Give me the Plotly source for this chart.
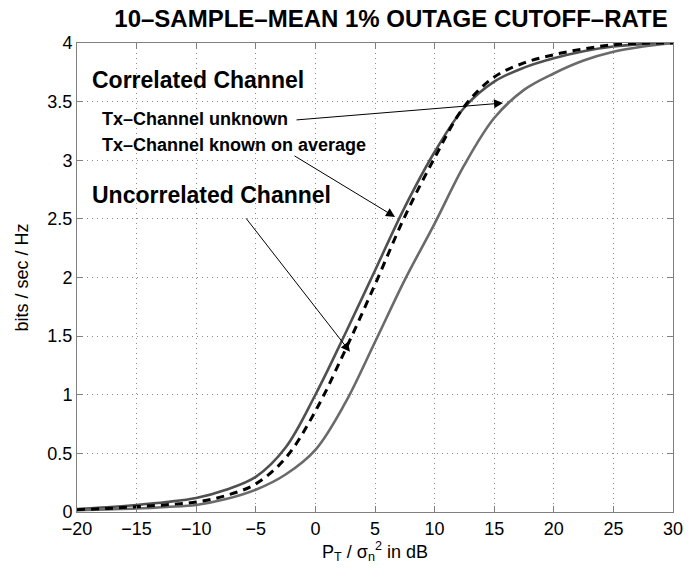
import plotly.graph_objects as go

# Correlated channel, Tx-channel known on average (left solid)
known_x = [-20, -17.5, -15, -12.5, -10, -7.5, -5, -2.5, 0, 2.5, 5, 7.5, 10, 12.5, 15, 17.5, 20, 22.5, 25, 27.5, 30]
known_y = [0.025, 0.04, 0.06, 0.085, 0.12, 0.19, 0.30, 0.55, 1.0, 1.52, 2.06, 2.60, 3.07, 3.45, 3.67, 3.79, 3.87, 3.93, 3.97, 3.99, 4.0]

# Uncorrelated channel (dashed)
uncorr_x = [-20, -17.5, -15, -12.5, -10, -7.5, -5, -2.5, 0, 2.5, 5, 7.5, 10, 12.5, 15, 17.5, 20, 22.5, 25, 27.5, 30]
uncorr_y = [0.02, 0.03, 0.045, 0.062, 0.085, 0.14, 0.24, 0.46, 0.86, 1.38, 1.94, 2.52, 3.02, 3.46, 3.71, 3.83, 3.90, 3.95, 3.985, 3.998, 4.0]

# Correlated channel, Tx-channel unknown (right solid)
unknown_x = [-20, -17.5, -15, -12.5, -10, -7.5, -5, -2.5, 0, 2.5, 5, 7.5, 10, 12.5, 15, 17.5, 20, 22.5, 25, 27.5, 30]
unknown_y = [0.015, 0.022, 0.03, 0.043, 0.06, 0.11, 0.19, 0.32, 0.53, 0.93, 1.45, 1.98, 2.46, 2.96, 3.36, 3.60, 3.74, 3.85, 3.925, 3.97, 4.0]

x_ticks = [-20, -15, -10, -5, 0, 5, 10, 15, 20, 25, 30]
y_ticks = [0, 0.5, 1, 1.5, 2, 2.5, 3, 3.5, 4]
y_tick_text = ["0", "0.5", "1", "1.5", "2", "2.5", "3", "3.5", "4"]

FONT = "Liberation Sans, Arial, Helvetica, sans-serif"

fig = go.Figure()
fig.add_trace(go.Scatter(x=known_x, y=known_y, mode="lines", line=dict(color="#505050", width=2.6, shape="spline", smoothing=1.0), showlegend=False, hoverinfo="skip"))
fig.add_trace(go.Scatter(x=unknown_x, y=unknown_y, mode="lines", line=dict(color="#6a6a6a", width=2.6, shape="spline", smoothing=1.0), showlegend=False, hoverinfo="skip"))
fig.add_trace(go.Scatter(x=uncorr_x, y=uncorr_y, mode="lines", line=dict(color="black", width=3, dash="8px,6px", shape="spline", smoothing=1.0), showlegend=False, hoverinfo="skip"))

axis_common = dict(
    showline=True, linecolor="#808080", linewidth=1, mirror="ticks",
    ticks="inside", ticklen=6, tickcolor="#808080",
    showgrid=True, gridcolor="#8c8c8c", griddash="1px,4px", gridwidth=1,
    zeroline=False, tickfont=dict(family=FONT, size=18, color="black"),
)

fig.update_xaxes(range=[-20, 30], tickvals=x_ticks, **axis_common,
                 title=dict(text="P<sub>T</sub> / σ<sub>n</sub><sup>2</sup> in dB", font=dict(family=FONT, size=18, color="black"), standoff=7))
fig.update_yaxes(range=[0, 4], tickvals=y_ticks, ticktext=y_tick_text, **axis_common,
                 title=dict(text="bits / sec / Hz", font=dict(family=FONT, size=18, color="black"), standoff=14))

def label(text, x, y, size):
    fig.add_annotation(x=x, y=y, xref="x", yref="y", text=f"<b>{text}</b>", showarrow=False,
                       xanchor="left", yanchor="middle", font=dict(family=FONT, size=size, color="black"))

label("Correlated Channel", -18.95, 3.684, 23)
label("Tx–Channel unknown", -18.1, 3.352, 18)
label("Tx–Channel known on average", -18.1, 3.13, 18)
label("Uncorrelated Channel", -18.95, 2.704, 23)

def arrow(x0, y0, x1, y1):
    fig.add_annotation(x=x1, y=y1, ax=x0, ay=y0, xref="x", yref="y", axref="x", ayref="y",
                       text="", showarrow=True, arrowhead=2, arrowsize=1.8, arrowwidth=1, arrowcolor="black")

arrow(-1.71, 3.343, 15.74, 3.488)
arrow(-1.88, 3.045, 6.68, 2.517)
arrow(-5.91, 2.517, 2.90, 1.367)

fig.update_layout(
    width=696, height=573,
    margin=dict(l=77, r=23, t=43, b=61),
    paper_bgcolor="white", plot_bgcolor="white",
    hovermode=False,
    title=dict(text="<b>10–SAMPLE–MEAN 1% OUTAGE CUTOFF–RATE</b>", x=391/696, xanchor="center",
               y=1 - 19/573, yanchor="middle", font=dict(family=FONT, size=24, color="black")),
)

fig.write_html("out.html", config={"displayModeBar": False, "staticPlot": True},
               post_script="document.body.style.margin='0px';")
